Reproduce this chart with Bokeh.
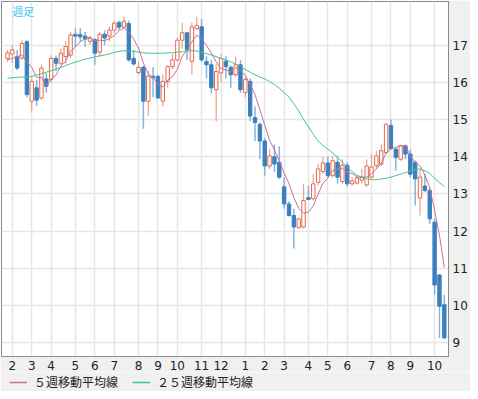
from bokeh.plotting import figure
from bokeh.layouts import column
from bokeh.models import FixedTicker, Legend, LegendItem, Label, ColumnDataSource
from bokeh.embed import file_html
from bokeh.resources import INLINE

# week index (0 = first week of Feb, year 1)
weeks = list(range(-1, 90))

opens = [16.64, 16.76, 16.69, 16.65, 17.09, 15.49, 15.85, 15.58, 16.09, 16.07,
         16.64, 16.51, 16.69, 16.73, 17.29, 17.28, 17.24, 17.10, 17.15, 16.81,
         17.29, 17.24, 17.40, 17.61, 17.48, 17.58, 16.64, 16.26, 16.40, 15.49,
         16.16, 16.16, 15.49, 16.02, 16.42, 16.60, 17.13, 17.33, 16.56, 17.44,
         17.49, 16.56, 16.47, 15.80, 16.25, 16.56, 16.40, 16.20, 16.47, 15.72,
         16.02, 15.05, 14.87, 14.42, 13.75, 14.00, 13.85, 13.19, 12.73, 12.42,
         12.09, 12.11, 12.90, 12.87, 13.31, 13.60, 13.83, 13.49, 13.85, 13.33,
         13.77, 13.27, 13.29, 13.37, 13.24, 13.45, 13.76, 13.80, 14.11, 14.84,
         14.20, 13.93, 14.29, 14.07, 13.85, 12.89, 13.21, 13.09, 12.24, 10.82,
         10.02]
highs = [16.87, 17.00, 16.87, 17.13, 17.13, 16.15, 16.07, 16.47, 16.25, 16.72,
         16.72, 16.90, 17.10, 17.35, 17.45, 17.45, 17.35, 17.25, 17.18, 17.35,
         17.40, 17.50, 17.65, 17.65, 17.77, 17.65, 16.87, 16.55, 16.45, 16.30,
         16.40, 16.20, 16.20, 16.45, 16.75, 17.20, 17.60, 17.35, 17.60, 17.77,
         17.70, 16.70, 16.60, 16.50, 16.75, 16.70, 16.45, 16.69, 16.60, 16.15,
         16.10, 15.35, 14.92, 14.50, 14.20, 14.33, 14.28, 13.45, 12.80, 12.60,
         12.36, 13.27, 13.22, 13.53, 13.80, 14.00, 14.00, 14.02, 14.01, 13.93,
         13.85, 13.45, 13.50, 13.67, 13.93, 14.07, 14.16, 14.33, 14.92, 15.00,
         14.25, 14.33, 14.33, 14.20, 13.90, 13.67, 13.53, 13.15, 12.33, 10.85,
         10.29]
lows = [16.55, 16.52, 16.33, 16.60, 15.59, 15.22, 15.36, 15.53, 15.72, 15.98,
        16.30, 16.45, 16.50, 16.65, 16.95, 17.08, 16.95, 17.00, 16.47, 16.68,
        17.00, 17.10, 17.30, 17.40, 17.45, 16.55, 16.45, 16.20, 14.75, 15.10,
        15.60, 15.55, 15.35, 15.85, 16.35, 16.55, 16.90, 16.60, 16.20, 17.40,
        16.55, 16.10, 15.70, 14.95, 16.00, 16.10, 15.85, 16.15, 15.72, 15.60,
        14.95, 14.42, 13.93, 13.49, 13.67, 13.59, 13.40, 12.60, 12.39, 11.53,
        12.07, 12.07, 12.82, 12.82, 13.22, 13.53, 13.45, 13.45, 13.27, 13.27,
        13.20, 13.21, 13.25, 13.27, 13.19, 13.40, 13.67, 13.75, 14.07, 14.20,
        13.62, 13.89, 13.93, 13.45, 12.69, 12.42, 13.05, 12.20, 10.29, 9.13,
        9.11]
closes = [16.79, 16.87, 16.38, 17.04, 15.67, 16.02, 15.52, 16.38, 15.89, 16.64,
          16.51, 16.78, 16.96, 17.27, 17.24, 17.22, 17.16, 17.18, 16.78, 17.29,
          17.19, 17.40, 17.59, 17.48, 17.64, 16.60, 16.49, 16.40, 15.49, 16.16,
          16.12, 15.58, 16.02, 16.42, 16.60, 17.13, 17.33, 16.87, 17.49, 17.53,
          16.60, 16.47, 15.85, 16.29, 16.64, 16.42, 16.20, 16.47, 15.80, 16.07,
          15.09, 14.92, 14.42, 13.75, 14.02, 13.80, 13.45, 12.73, 12.42, 12.11,
          12.33, 12.82, 12.85, 13.27, 13.67, 13.83, 13.49, 13.89, 13.45, 13.77,
          13.27, 13.35, 13.43, 13.45, 13.75, 13.72, 14.02, 14.16, 14.87, 14.22,
          13.98, 14.29, 14.07, 13.53, 13.40, 13.45, 13.09, 12.33, 10.55, 9.98,
          9.13]

ma5 = [16.60, 16.64, 16.69, 16.73, 16.55, 16.40, 16.13, 16.13, 15.90, 16.09,
       16.19, 16.44, 16.56, 16.83, 16.95, 17.09, 17.17, 17.21, 17.12, 17.13,
       17.12, 17.17, 17.25, 17.39, 17.46, 17.34, 17.16, 16.92, 16.52, 16.23,
       16.13, 15.95, 15.87, 16.06, 16.15, 16.35, 16.70, 16.87, 17.08, 17.27,
       17.16, 16.99, 16.79, 16.55, 16.37, 16.33, 16.28, 16.40, 16.31, 16.19,
       15.93, 15.67, 15.26, 14.85, 14.44, 14.18, 13.89, 13.55, 13.28, 12.90,
       12.61, 12.48, 12.51, 12.68, 12.99, 13.29, 13.42, 13.63, 13.67, 13.69,
       13.57, 13.55, 13.45, 13.45, 13.45, 13.54, 13.67, 13.82, 14.10, 14.20,
       14.25, 14.30, 14.29, 14.02, 13.85, 13.75, 13.51, 13.16, 12.56, 11.88,
       11.02]
ma25 = [16.11, 16.12, 16.13, 16.14, 16.15, 16.16, 16.19, 16.23, 16.27, 16.31,
        16.35, 16.40, 16.45, 16.50, 16.54, 16.58, 16.62, 16.65, 16.68, 16.71,
        16.73, 16.76, 16.80, 16.83, 16.85, 16.84, 16.83, 16.81, 16.79, 16.78,
        16.78, 16.78, 16.78, 16.79, 16.79, 16.81, 16.82, 16.84, 16.85, 16.84,
        16.80, 16.77, 16.73, 16.69, 16.64, 16.60, 16.55, 16.49, 16.42, 16.34,
        16.27, 16.20, 16.14, 16.09, 16.02, 15.94, 15.84, 15.72, 15.60, 15.42,
        15.23, 15.00, 14.80, 14.60, 14.42, 14.30, 14.20, 14.10, 13.98, 13.85,
        13.72, 13.60, 13.50, 13.45, 13.41, 13.38, 13.38, 13.40, 13.42, 13.45,
        13.49, 13.53, 13.57, 13.62, 13.66, 13.67, 13.62, 13.55, 13.42, 13.30,
        13.20]

month_ticks = [0, 4, 8, 13, 17, 21, 26, 30, 34, 39, 43, 48, 52, 56, 61, 65, 69, 74, 78, 82, 87]
month_labels = ["2", "3", "4", "5", "6", "7", "8", "9", "10", "11", "12",
                "1", "2", "3", "4", "5", "6", "7", "8", "9", "10"]
price_ticks = [9, 10, 11, 12, 13, 14, 15, 16, 17]
legend_labels = ["５週移動平均線", "２５週移動平均線"]

UP = "#e2694c"
DOWN = "#3b80bd"
UP_WICK = "#eda08c"
DOWN_WICK = "#86b4db"
MA5_C = "#c8709c"
MA25_C = "#45c48a"
GRID = "#e6e6e6"
BG = "#f0f0f0"

up = dict(x=[], top=[], bottom=[], h=[], l=[])
dn = dict(x=[], top=[], bottom=[], h=[], l=[])
for w, o, h, l, c in zip(weeks, opens, highs, lows, closes):
    d = up if c >= o else dn
    d["x"].append(w)
    d["top"].append(max(o, c))
    d["bottom"].append(min(o, c))
    d["h"].append(h)
    d["l"].append(l)

p = figure(width=470, height=372, x_range=(-2.23, 89.86), y_range=(8.63, 18.17),
           y_axis_location="right", output_backend="svg", toolbar_location=None,
           min_border_left=1, min_border_top=1, min_border_right=2, min_border_bottom=0)
p.background_fill_color = "white"
p.border_fill_color = BG
p.outline_line_color = "#8a8a8a"

p.xaxis.ticker = FixedTicker(ticks=month_ticks)
p.xaxis.major_label_overrides = {t: s for t, s in zip(month_ticks, month_labels)}
p.yaxis.ticker = FixedTicker(ticks=price_ticks)
for ax in (p.xaxis[0], p.yaxis[0]):
    ax.axis_line_color = "#8a8a8a"
    ax.major_tick_line_color = None
    ax.minor_tick_line_color = None
    ax.major_tick_out = 0
    ax.major_tick_in = 0
    ax.minor_tick_out = 0
    ax.major_label_text_font = "DejaVu Sans"
    ax.major_label_text_font_size = "12px"
    ax.major_label_text_color = "#222222"
    ax.major_label_standoff = 4
p.xgrid.grid_line_color = GRID
p.ygrid.grid_line_color = GRID
p.xgrid.grid_line_width = 1.5
p.ygrid.grid_line_width = 1.5

su = ColumnDataSource(up)
sd = ColumnDataSource(dn)
p.segment(x0="x", y0="h", x1="x", y1="l", source=su, line_color=UP_WICK, line_width=1.2)
p.segment(x0="x", y0="h", x1="x", y1="l", source=sd, line_color=DOWN_WICK, line_width=1.5)
p.vbar(x="x", top="top", bottom="bottom", width=0.7, source=su,
       fill_color="white", line_color=UP, line_width=1)
p.vbar(x="x", top="top", bottom="bottom", width=0.7, source=sd,
       fill_color=DOWN, line_color=DOWN, line_width=1)

p.line(weeks, ma5, line_color=MA5_C, line_width=1)
p.line(weeks, ma25, line_color=MA25_C, line_width=1)

p.add_layout(Label(x=0, y=18.12, text="週足", text_font="Noto Sans CJK JP",
                   text_font_size="11px", text_color="#3cc4f0", text_align="left",
                   text_baseline="top"))

# legend strip below the chart; its lines sit outside the strip's range so only
# the legend swatches are seen
lf = figure(width=470, height=19, x_range=(0, 1), y_range=(0, 1),
            output_backend="svg", toolbar_location=None,
            min_border=0, outline_line_color=None)
lf.axis.visible = False
lf.grid.visible = False
lf.background_fill_color = BG
lf.border_fill_color = BG
l5 = lf.line(weeks, ma5, line_color=MA5_C, line_width=1.5)
l25 = lf.line(weeks, ma25, line_color=MA25_C, line_width=1.5)
legend = Legend(items=[LegendItem(label=legend_labels[0], renderers=[l5]),
                       LegendItem(label=legend_labels[1], renderers=[l25])],
                orientation="horizontal", location=(7, 0),
                background_fill_alpha=0, border_line_alpha=0,
                label_text_font="Noto Sans CJK JP",
                label_text_font_size="12px", label_text_color="#222222",
                glyph_width=18, glyph_height=10, label_standoff=7, spacing=14,
                padding=1, margin=0, label_height=14)
lf.add_layout(legend, "center")

layout = column(p, lf, spacing=0)
open("out.html", "w").write(file_html(layout, INLINE))
